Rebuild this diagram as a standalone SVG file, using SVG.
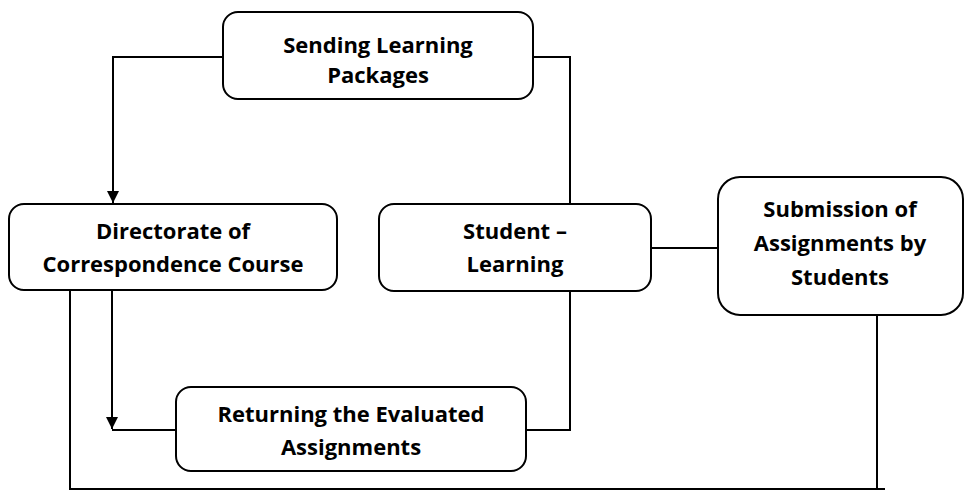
<svg xmlns="http://www.w3.org/2000/svg" width="965" height="491" viewBox="0 0 965 491">
<style>
.box{fill:#fff;stroke:#000;stroke-width:2}
.ln{fill:none;stroke:#000;stroke-width:2}
text{font-family:"Open Sans","Liberation Sans",sans-serif;font-weight:700;font-size:22px;text-anchor:middle;fill:#000}
</style>
<defs>
<marker id="ah" viewBox="0 0 10 10" refX="10" refY="5" markerWidth="12" markerHeight="12" markerUnits="userSpaceOnUse" orient="auto">
<path d="M0,0 L10,5 L0,10 Z" fill="#000"/>
</marker>
</defs>
<rect width="965" height="491" fill="#fff"/>
<g id="connectors">
<path class="ln" d="M223,57 H113 V203" marker-end="url(#ah)"/>
<path class="ln" d="M533,57 H570 V204"/>
<path class="ln" d="M570,291 V430 H526"/>
<path class="ln" d="M176,430 H112"/>
<path class="ln" d="M112,290 V429" marker-end="url(#ah)"/>
<path class="ln" d="M651,248 H718"/>
<path class="ln" d="M70,290 V489 H885"/>
<path class="ln" d="M877,315 V489"/>
</g>
<g id="sending">
<rect class="box" x="223" y="12" width="310" height="87" rx="15"/>
<text x="378" y="53">Sending Learning</text>
<text x="378" y="83">Packages</text>
</g>
<g id="directorate">
<rect class="box" x="9" y="204" width="328" height="86" rx="15"/>
<text x="173" y="239">Directorate of</text>
<text x="173" y="272">Correspondence Course</text>
</g>
<g id="student">
<rect class="box" x="379" y="204" width="272" height="87" rx="15"/>
<text x="515" y="239">Student –</text>
<text x="515" y="272">Learning</text>
</g>
<g id="submission">
<rect class="box" x="718" y="177" width="245" height="138" rx="22"/>
<text x="840" y="217">Submission of</text>
<text x="840" y="251">Assignments by</text>
<text x="840" y="285">Students</text>
</g>
<g id="returning">
<rect class="box" x="176" y="387" width="350" height="84" rx="15"/>
<text x="351" y="422">Returning the Evaluated</text>
<text x="351" y="455">Assignments</text>
</g>
</svg>
